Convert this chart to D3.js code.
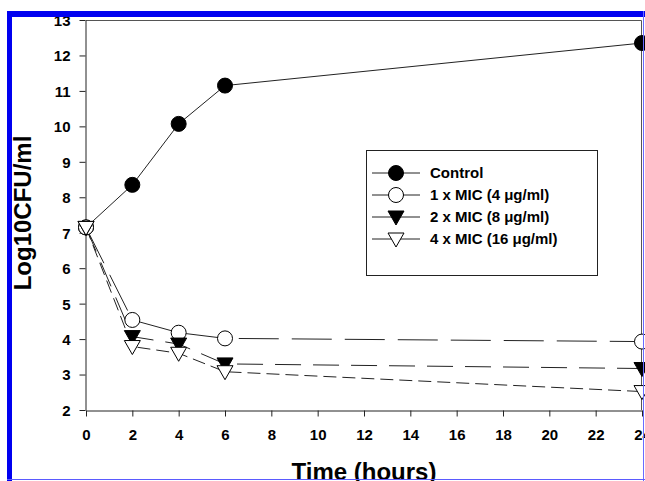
<!DOCTYPE html>
<html lang="en">
<head>
  <meta charset="UTF-8">
  <title>Log10 CFU/ml over time</title>
  <script src="https://d3js.org/d3.v7.min.js"></script>
  <style>
    body { margin: 0; background: #fff; }
    svg text { font-family: "Liberation Sans", Arial, sans-serif; font-weight: bold; fill: #000; }
  </style>
</head>
<body>
  <svg width="645" height="481"></svg>

  <script>
    // データ
    const hours = [0, 2, 4, 6, 24];
    const control = [7.15, 8.35, 10.07, 11.15, 12.35];
    const mic1 = [7.15, 4.54, 4.18, 4.02, 3.93];
    const mic2 = [7.15, 4.07, 3.86, 3.3, 3.17];
    const mic4 = [7.15, 3.79, 3.6, 3.08, 2.52];
    const seriesNames = ["Control", "1 x MIC (4 \u03bcg/ml)", "2 x MIC (8 \u03bcg/ml)", "4 x MIC (16 \u03bcg/ml)"];
    const xTicks = d3.range(0, 25, 2);
    const yTicks = d3.range(2, 14, 1);

    const svg = d3.select("svg");

    const x = d3.scaleLinear().domain([0, 24]).range([86, 642]);
    const y = d3.scaleLinear().domain([2, 13]).range([410, 20]);

    // 系列ごとのスタイル
    const series = [
      { name: seriesNames[0], values: control, marker: "circle", fill: "#000", dash: null },
      { name: seriesNames[1], values: mic1, marker: "circle", fill: "#fff", dash: "40,13" },
      { name: seriesNames[2], values: mic2, marker: "tri", fill: "#000", dash: "26,12" },
      { name: seriesNames[3], values: mic4, marker: "tri", fill: "#fff", dash: "13,6" }
    ];

    // 枠線（上と右）
    svg.append("line").attr("x1", 86).attr("x2", 641.5).attr("y1", 20.5).attr("y2", 20.5)
       .attr("stroke", "#555").attr("stroke-width", 1);
    svg.append("line").attr("x1", 641.5).attr("x2", 641.5).attr("y1", 20.5).attr("y2", 410)
       .attr("stroke", "#555").attr("stroke-width", 1);

    // 軸
    const xAxis = svg.append("g")
      .attr("transform", "translate(0,410.5)")
      .call(d3.axisBottom(x).tickValues(xTicks).tickSize(6).tickPadding(13).tickSizeOuter(0));
    const yAxis = svg.append("g")
      .attr("transform", "translate(85.5,0)")
      .call(d3.axisLeft(y).tickValues(yTicks).tickSize(6).tickPadding(9).tickSizeOuter(0));

    [xAxis, yAxis].forEach(a => {
      a.selectAll("path, line").attr("stroke", "#222");
      a.selectAll("text").style("font-size", "15px");
    });
    yAxis.selectAll("text").attr("dy", "0.36em");

    // 線
    const line = d3.line().x((d, i) => x(hours[i])).y(d => y(d));
    series.forEach(s => {
      svg.append("path")
         .datum(s.values)
         .attr("d", line)
         .attr("fill", "none")
         .attr("stroke", "#222")
         .attr("stroke-width", 1)
         .attr("stroke-dasharray", s.dash);
    });

    // マーカー描画
    function drawMarker(g, s, cx, cy) {
      if (s.marker === "circle") {
        g.append("circle").attr("cx", cx).attr("cy", cy).attr("r", 7.5)
         .attr("fill", s.fill).attr("stroke", "#000").attr("stroke-width", 1);
      } else {
        g.append("path")
         .attr("d", `M${cx - 8},${cy - 6}L${cx + 8},${cy - 6}L${cx},${cy + 8}Z`)
         .attr("fill", s.fill).attr("stroke", "#000").attr("stroke-width", 1);
      }
    }

    series.forEach(s => {
      s.values.forEach((v, i) => drawMarker(svg, s, x(hours[i]), y(v)));
    });

    // 凡例
    const legend = svg.append("g");
    legend.append("rect").attr("x", 366.5).attr("y", 150.5).attr("width", 231).attr("height", 125)
          .attr("fill", "#fff").attr("stroke", "#222").attr("stroke-width", 1);
    series.forEach((s, i) => {
      const ly = 173 + i * 22;
      legend.append("line").attr("x1", 372).attr("x2", 420).attr("y1", ly).attr("y2", ly)
            .attr("stroke", "#222").attr("stroke-width", 1);
      drawMarker(legend, s, 396, ly);
      legend.append("text").attr("x", 430).attr("y", ly).attr("dy", "0.36em")
            .style("font-size", "15px").text(s.name);
    });

    // 軸ラベル
    svg.append("text").attr("x", 364).attr("y", 480).attr("text-anchor", "middle")
       .style("font-size", "24px").text("Time (hours)");
    svg.append("text").attr("transform", "translate(30.5,213) rotate(-90)").attr("text-anchor", "middle")
       .style("font-size", "24px").text("Log10CFU/ml");

    // 青い外枠
    svg.append("rect").attr("x", 7).attr("y", 11).attr("width", 5).attr("height", 470).attr("fill", "#0000f0");
    svg.append("rect").attr("x", 7).attr("y", 11).attr("width", 638).attr("height", 6).attr("fill", "#0000f0");
    svg.append("line").attr("x1", 643.5).attr("x2", 643.5).attr("y1", 11).attr("y2", 481)
       .attr("stroke", "#6a6aff").attr("stroke-width", 1);
    svg.append("line").attr("x1", 7).attr("x2", 645).attr("y1", 479.5).attr("y2", 479.5)
       .attr("stroke", "#5a5aff").attr("stroke-width", 1);
  </script>
</body>
</html>
